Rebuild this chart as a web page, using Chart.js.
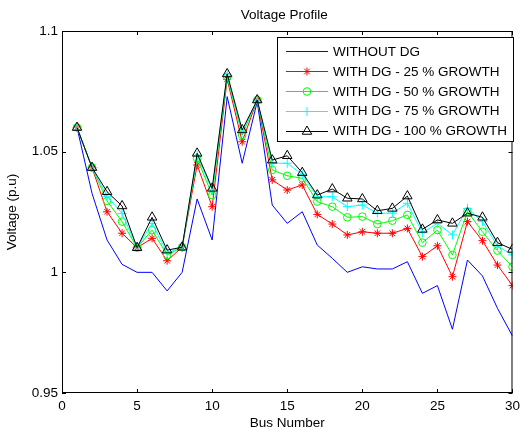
<!DOCTYPE html>
<html>
<head>
<meta charset="utf-8">
<script src="https://cdn.jsdelivr.net/npm/chart.js@4.4.0/dist/chart.umd.min.js"></script>
<style>
  html, body { margin: 0; padding: 0; background: #fff; }
  #wrap { width: 525px; height: 430px; }
</style>
</head>
<body>
<div id="wrap"><canvas id="c"></canvas></div>
<script>
// bus numbers 1..30
const buses = [1, 2, 3, 4, 5, 6, 7, 8, 9, 10, 11, 12, 13, 14, 15, 16, 17, 18, 19, 20, 21, 22, 23, 24, 25, 26, 27, 28, 29, 30];

// voltages (p.u)
const withoutDg = [1.060, 1.0327, 1.0134, 1.0033, 1.000, 1.000, 0.9923, 1.000, 1.0304, 1.0134,
  1.0728, 1.0452, 1.0707, 1.0279, 1.0203, 1.0251, 1.0113, 1.0058, 1.000, 1.0023,
  1.0014, 1.0014, 1.0044, 0.9913, 0.9945, 0.9764, 1.0051, 0.9985, 0.9851, 0.9736];
const growth25 = [1.060, 1.0434, 1.0251, 1.0162, 1.0102, 1.0141, 1.0048, 1.0104, 1.0445, 1.0272,
  1.080, 1.0541, 1.0714, 1.0383, 1.0341, 1.0362, 1.024, 1.020, 1.0155, 1.0168,
  1.0162, 1.0162, 1.0182, 1.0065, 1.011, 0.9982, 1.021, 1.0131, 1.003, 0.9945];
const growth50 = [1.060, 1.0434, 1.0296, 1.021, 1.0102, 1.0175, 1.0072, 1.0104, 1.0472, 1.032,
  1.081, 1.0569, 1.0714, 1.0424, 1.040, 1.039, 1.0293, 1.0272, 1.0228, 1.0231,
  1.020, 1.0214, 1.0238, 1.0123, 1.0175, 1.0072, 1.0252, 1.0168, 1.009, 1.0023];
const growth75 = [1.060, 1.0434, 1.0315, 1.0244, 1.0102, 1.0203, 1.0081, 1.0104, 1.0485, 1.0341,
  1.0818, 1.058, 1.0714, 1.0452, 1.0452, 1.0405, 1.0313, 1.0313, 1.0272, 1.0279,
  1.0245, 1.0245, 1.0286, 1.0164, 1.0203, 1.0155, 1.0265, 1.021, 1.0109, 1.0072];
const growth100 = [1.060, 1.0434, 1.0334, 1.0275, 1.0102, 1.0228, 1.0092, 1.0104, 1.0493, 1.0348,
  1.0822, 1.059, 1.0714, 1.0465, 1.0483, 1.0413, 1.032, 1.0345, 1.0307, 1.0304,
  1.0255, 1.0265, 1.0316, 1.0178, 1.0217, 1.0203, 1.0245, 1.0228, 1.0123, 1.0095];

const seriesNames = ['WITHOUT DG', 'WITH DG - 25 % GROWTH', 'WITH DG - 50 % GROWTH',
  'WITH DG - 75 % GROWTH', 'WITH DG - 100 % GROWTH'];

const xTicks = [0, 5, 10, 15, 20, 25, 30];
const yTicks = [0.95, 1, 1.05, 1.1];

const FONT = { family: "'Liberation Sans', Arial, sans-serif", size: 13.5 };

function pts(values) {
  return buses.map((b, i) => ({ x: b, y: values[i] }));
}

const styles = [
  { color: '#0000ff', pointStyle: false, radius: 0 },
  { color: '#ff0000', pointStyle: 'star', radius: 4 },
  { color: '#00ff00', pointStyle: 'circle', radius: 3.8 },
  { color: '#00ffff', pointStyle: 'cross', radius: 4.5 },
  { color: '#000000', pointStyle: 'triangle', radius: 5.5 }
];
const allSeries = [withoutDg, growth25, growth50, growth75, growth100];

const datasets = allSeries.map((vals, i) => ({
  label: seriesNames[i],
  data: pts(vals),
  borderColor: styles[i].color,
  backgroundColor: 'rgba(0,0,0,0)',
  borderWidth: 1,
  pointStyle: styles[i].pointStyle,
  pointRadius: styles[i].radius,
  pointBorderColor: styles[i].color,
  pointBackgroundColor: 'rgba(0,0,0,0)',
  pointBorderWidth: 1,
  tension: 0,
  order: 5 - i   // later series on top, like the original
}));

// box, inward ticks, title
const framePlugin = {
  id: 'frame',
  afterDatasetsDraw(chart) {
    const { ctx, chartArea: a, scales } = chart;
    ctx.save();
    ctx.strokeStyle = '#000';
    ctx.lineWidth = 1;
    ctx.strokeRect(a.left + 0.5, a.top + 0.5, a.right - a.left - 1, a.bottom - a.top - 1);
    ctx.beginPath();
    xTicks.forEach(v => {
      const px = Math.round(scales.x.getPixelForValue(v)) + 0.5;
      ctx.moveTo(px, a.bottom); ctx.lineTo(px, a.bottom - 4);
      ctx.moveTo(px, a.top); ctx.lineTo(px, a.top + 4);
    });
    yTicks.forEach(v => {
      const py = Math.round(scales.y.getPixelForValue(v)) + 0.5;
      ctx.moveTo(a.left, py); ctx.lineTo(a.left + 4, py);
      ctx.moveTo(a.right, py); ctx.lineTo(a.right - 4, py);
    });
    ctx.stroke();

    ctx.fillStyle = '#000';
    ctx.font = FONT.size + 'px ' + FONT.family;
    ctx.textAlign = 'center';
    ctx.textBaseline = 'middle';
    ctx.fillText('Voltage Profile', (a.left + a.right) / 2 - 3, 15);
    ctx.restore();
  }
};

// legend box in the top right corner of the plot
const legendPlugin = {
  id: 'boxLegend',
  afterDraw(chart) {
    const { ctx } = chart;
    const bx = 277, by = 37, bw = 236, bh = 104;
    ctx.save();
    ctx.fillStyle = '#fff';
    ctx.fillRect(bx, by, bw, bh);
    ctx.strokeStyle = '#000';
    ctx.lineWidth = 1;
    ctx.strokeRect(bx + 0.5, by + 0.5, bw, bh);
    ctx.font = FONT.size + 'px ' + FONT.family;
    ctx.textBaseline = 'middle';
    chart.data.datasets.forEach((ds, i) => {
      const y = 51 + i * 19.9;
      ctx.strokeStyle = ds.borderColor;
      ctx.beginPath();
      ctx.moveTo(286, Math.round(y) + 0.5);
      ctx.lineTo(328, Math.round(y) + 0.5);
      ctx.stroke();
      if (ds.pointStyle) {
        ctx.strokeStyle = ds.pointBorderColor;
        ctx.fillStyle = 'rgba(0,0,0,0)';
        Chart.helpers.drawPoint(ctx, {
          pointStyle: ds.pointStyle, radius: ds.pointRadius, rotation: 0, borderWidth: 1
        }, 307, Math.round(y) + 0.5);
      }
      ctx.fillStyle = '#000';
      ctx.fillText(ds.label, 333, y + 1);
    });
    ctx.restore();
  }
};

new Chart(document.getElementById('c'), {
  type: 'line',
  data: { datasets },
  options: {
    responsive: true,
    maintainAspectRatio: false,
    animation: false,
    events: [],
    layout: { padding: { top: 31, right: 4, left: 0, bottom: 0 } },
    plugins: {
      legend: { display: false },
      title: { display: false },
      tooltip: { enabled: false }
    },
    scales: {
      x: {
        type: 'linear',
        min: 0, max: 30,
        grid: { display: false, drawTicks: false },
        border: { display: false },
        afterBuildTicks: s => { s.ticks = xTicks.map(v => ({ value: v })); },
        ticks: { color: '#000', font: FONT, padding: 5, maxRotation: 0 },
        title: { display: true, text: 'Bus Number', color: '#000', font: { ...FONT, lineHeight: 1 }, padding: 0 },
        afterFit: s => { s.height = 37; }
      },
      y: {
        min: 0.95, max: 1.1,
        grid: { display: false, drawTicks: false },
        border: { display: false },
        afterBuildTicks: s => { s.ticks = yTicks.map(v => ({ value: v })); },
        ticks: {
          color: '#000', font: FONT, padding: 4,
          callback: v => String(parseFloat(Number(v).toFixed(2)))
        },
        title: { display: true, text: 'Voltage (p.u)', color: '#000', font: FONT, padding: { top: 4, bottom: 0 } },
        afterFit: s => { s.width = 62; }
      }
    }
  },
  plugins: [framePlugin, legendPlugin]
});
</script>
</body>
</html>
